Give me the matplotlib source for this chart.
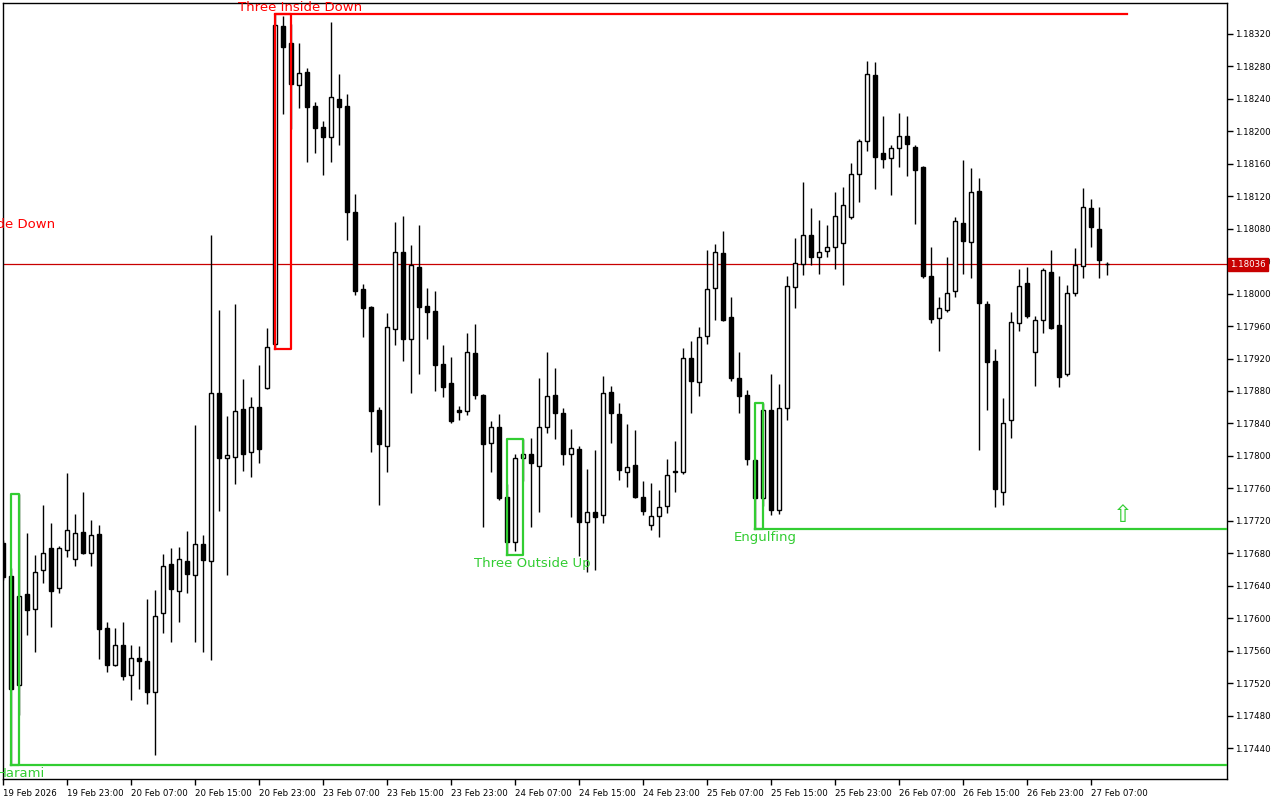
import numpy as np
import matplotlib
matplotlib.use("Agg")
import matplotlib.pyplot as plt
import matplotlib.transforms as mtransforms

# hourly EURUSD-like candles, 19 Feb 15:00 .. 27 Feb 09:00
opens = [
    1.17693, 1.17652, 1.17518, 1.17630, 1.17611, 1.17659, 1.17686, 1.17637, 1.17684, 1.17673,
    1.17706, 1.17681, 1.17704, 1.17588, 1.17543, 1.17567, 1.17530, 1.17551, 1.17547, 1.17509,
    1.17606, 1.17667, 1.17633, 1.17670, 1.17653, 1.17691, 1.17670, 1.17877, 1.17797, 1.17799,
    1.17858, 1.17805, 1.17860, 1.17884, 1.17938, 1.18330, 1.18309, 1.18257, 1.18273, 1.18231,
    1.18205, 1.18193, 1.18240, 1.18231, 1.18101, 1.18006, 1.17983, 1.17856, 1.17812, 1.17956,
    1.18051, 1.17944, 1.18033, 1.17985, 1.17979, 1.17913, 1.17890, 1.17856, 1.17855, 1.17927,
    1.17875, 1.17816, 1.17836, 1.17749, 1.17694, 1.17797, 1.17802, 1.17787, 1.17836, 1.17875,
    1.17853, 1.17802, 1.17808, 1.17718, 1.17731, 1.17727, 1.17879, 1.17852, 1.17780, 1.17789,
    1.17749, 1.17715, 1.17726, 1.17738, 1.17781, 1.17780, 1.17921, 1.17891, 1.17948, 1.18007,
    1.18050, 1.17971, 1.17896, 1.17875, 1.17795, 1.17748, 1.17856, 1.17733, 1.17859, 1.18008,
    1.18036, 1.18072, 1.18045, 1.18052, 1.18057, 1.18062, 1.18094, 1.18147, 1.18188, 1.18269,
    1.18173, 1.18167, 1.18179, 1.18194, 1.18181, 1.18156, 1.18022, 1.17970, 1.17980, 1.18003,
    1.18087, 1.18064, 1.18126, 1.17987, 1.17917, 1.17755, 1.17844, 1.17964, 1.18013, 1.17928,
    1.17967, 1.18027, 1.17961, 1.17901, 1.18001, 1.18034, 1.18106, 1.18080, 1.18037,
]
highs = [
    1.17696, 1.17662, 1.17753, 1.17705, 1.17678, 1.17739, 1.17717, 1.17689, 1.17779, 1.17728,
    1.17755, 1.17721, 1.17715, 1.17596, 1.17588, 1.17596, 1.17567, 1.17566, 1.17624, 1.17635,
    1.17679, 1.17686, 1.17688, 1.17707, 1.17838, 1.17702, 1.18072, 1.17980, 1.17849, 1.17987,
    1.17895, 1.17873, 1.17912, 1.17958, 1.18345, 1.18342, 1.18332, 1.18309, 1.18278, 1.18236,
    1.18213, 1.18335, 1.18271, 1.18246, 1.18123, 1.18012, 1.17985, 1.17860, 1.17976, 1.18088,
    1.18096, 1.18060, 1.18085, 1.18007, 1.18003, 1.17937, 1.17922, 1.17861, 1.17951, 1.17962,
    1.17876, 1.17843, 1.17852, 1.17765, 1.17803, 1.17821, 1.17822, 1.17896, 1.17928, 1.17908,
    1.17859, 1.17833, 1.17812, 1.17784, 1.17807, 1.17898, 1.17886, 1.17865, 1.17839, 1.17832,
    1.17769, 1.17767, 1.17758, 1.17796, 1.17818, 1.17933, 1.17942, 1.17959, 1.18054, 1.18061,
    1.18077, 1.17996, 1.17928, 1.17881, 1.17796, 1.17865, 1.17901, 1.17889, 1.18022, 1.18069,
    1.18138, 1.18106, 1.18091, 1.18085, 1.18125, 1.18131, 1.18161, 1.18191, 1.18287, 1.18285,
    1.18219, 1.18183, 1.18223, 1.18219, 1.18183, 1.18157, 1.18057, 1.17996, 1.18045, 1.18094,
    1.18165, 1.18155, 1.18142, 1.17991, 1.17932, 1.17871, 1.17977, 1.18030, 1.18033, 1.17972,
    1.18032, 1.18054, 1.18022, 1.18011, 1.18056, 1.18130, 1.18117, 1.18107, 1.18039,
]
lows = [
    1.17647, 1.17419, 1.17481, 1.17579, 1.17559, 1.17644, 1.17589, 1.17631, 1.17675, 1.17665,
    1.17679, 1.17664, 1.17550, 1.17534, 1.17541, 1.17524, 1.17499, 1.17513, 1.17494, 1.17432,
    1.17582, 1.17571, 1.17596, 1.17631, 1.17571, 1.17558, 1.17548, 1.17732, 1.17653, 1.17765,
    1.17781, 1.17774, 1.17791, 1.17882, 1.17932, 1.18221, 1.18203, 1.18229, 1.18162, 1.18173,
    1.18146, 1.18162, 1.18183, 1.18066, 1.17998, 1.17946, 1.17805, 1.17739, 1.17780, 1.17937,
    1.17917, 1.17877, 1.17901, 1.17944, 1.17880, 1.17873, 1.17840, 1.17844, 1.17850, 1.17870,
    1.17712, 1.17780, 1.17746, 1.17678, 1.17683, 1.17769, 1.17712, 1.17731, 1.17828, 1.17821,
    1.17789, 1.17725, 1.17677, 1.17657, 1.17659, 1.17717, 1.17816, 1.17770, 1.17762, 1.17748,
    1.17727, 1.17709, 1.17700, 1.17730, 1.17755, 1.17778, 1.17853, 1.17874, 1.17938, 1.17967,
    1.17966, 1.17892, 1.17853, 1.17789, 1.17710, 1.17738, 1.17727, 1.17728, 1.17844, 1.17982,
    1.18023, 1.18035, 1.18024, 1.18045, 1.18030, 1.18011, 1.18092, 1.18113, 1.18176, 1.18129,
    1.18155, 1.18122, 1.18156, 1.18145, 1.18086, 1.18019, 1.17964, 1.17929, 1.17977, 1.17996,
    1.18024, 1.18019, 1.17807, 1.17856, 1.17737, 1.17739, 1.17822, 1.17954, 1.17970, 1.17886,
    1.17951, 1.17956, 1.17885, 1.17898, 1.17997, 1.18019, 1.18057, 1.18019, 1.18023,
]
closes = [
    1.17651, 1.17513, 1.17627, 1.17610, 1.17657, 1.17680, 1.17633, 1.17686, 1.17709, 1.17705,
    1.17680, 1.17702, 1.17587, 1.17543, 1.17567, 1.17529, 1.17551, 1.17547, 1.17509, 1.17603,
    1.17665, 1.17636, 1.17673, 1.17654, 1.17691, 1.17672, 1.17877, 1.17797, 1.17801, 1.17855,
    1.17803, 1.17860, 1.17808, 1.17934, 1.18331, 1.18304, 1.18258, 1.18272, 1.18230, 1.18204,
    1.18193, 1.18242, 1.18230, 1.18101, 1.18003, 1.17982, 1.17855, 1.17815, 1.17959, 1.18051,
    1.17944, 1.18035, 1.17983, 1.17977, 1.17912, 1.17885, 1.17843, 1.17854, 1.17928, 1.17875,
    1.17815, 1.17836, 1.17748, 1.17694, 1.17797, 1.17802, 1.17791, 1.17836, 1.17874, 1.17853,
    1.17802, 1.17810, 1.17718, 1.17731, 1.17725, 1.17877, 1.17853, 1.17783, 1.17786, 1.17749,
    1.17732, 1.17726, 1.17737, 1.17776, 1.17780, 1.17921, 1.17892, 1.17946, 1.18006, 1.18051,
    1.17967, 1.17896, 1.17874, 1.17796, 1.17748, 1.17856, 1.17733, 1.17859, 1.18009, 1.18038,
    1.18072, 1.18045, 1.18051, 1.18057, 1.18096, 1.18109, 1.18147, 1.18188, 1.18271, 1.18168,
    1.18166, 1.18179, 1.18194, 1.18184, 1.18152, 1.18022, 1.17969, 1.17982, 1.18001, 1.18089,
    1.18065, 1.18125, 1.17988, 1.17916, 1.17759, 1.17840, 1.17965, 1.18009, 1.17972, 1.17967,
    1.18029, 1.17958, 1.17897, 1.18001, 1.18035, 1.18107, 1.18082, 1.18041, 1.18036,
]

time_labels = [
    "19 Feb 2026", "19 Feb 23:00", "20 Feb 07:00", "20 Feb 15:00", "20 Feb 23:00",
    "23 Feb 07:00", "23 Feb 15:00", "23 Feb 23:00", "24 Feb 07:00", "24 Feb 15:00",
    "24 Feb 23:00", "25 Feb 07:00", "25 Feb 15:00", "25 Feb 23:00", "26 Feb 07:00",
    "26 Feb 15:00", "26 Feb 23:00", "27 Feb 07:00",
]

bid = 1.18036

# candlestick patterns: name, first bar, last bar, colour, level line, line end
pattern_names = ["Harami", "Three Inside Down", "Three Outside Up", "Engulfing"]
pattern_start = [1, 34, 63, 94]
pattern_end = [2, 36, 65, 95]
pattern_colors = ["#32cd32", "#ff0000", "#32cd32", "#32cd32"]
pattern_level = ["low", "high", None, "low"]
pattern_line_end = [153, 140.5, None, 153]
pattern_label_x = [2.3, 37.2, 66.2, 95.3]
pattern_label_y = [1.17409, 1.18352, 1.17668, 1.17699]

signal_x = 140
signal_price = 1.17727

RED = "#ff0000"
GREEN = "#32cd32"

opens = np.array(opens)
highs = np.array(highs)
lows = np.array(lows)
closes = np.array(closes)
idx = np.arange(len(opens))

fig = plt.figure(figsize=(12.8, 8), dpi=100)
ax = fig.add_axes([2.7 / 1280, 1 - 779 / 800, (1227 - 2.7) / 1280, (779 - 3) / 800])
ax.set_xlim(0, 153)
ax.set_ylim(1.17402, 1.18358)

# wicks then bodies
ax.vlines(idx, lows, highs, color="black", lw=1, zorder=2)
up = closes >= opens
body_bottom = np.minimum(opens, closes)
body_h = np.abs(closes - opens)
ax.bar(idx[up], body_h[up], bottom=body_bottom[up], width=0.55,
       facecolor="white", edgecolor="black", lw=1, zorder=3)
ax.bar(idx[~up], body_h[~up], bottom=body_bottom[~up], width=0.55,
       facecolor="black", edgecolor="black", lw=1, zorder=3)

# current bid line
ax.axhline(bid, color="#c80000", lw=0.9, zorder=1)

# pattern boxes, level lines and labels
for k, name in enumerate(pattern_names):
    a, b = pattern_start[k], pattern_end[k]
    top = highs[a:b + 1].max()
    bot = lows[a:b + 1].min()
    c = pattern_colors[k]
    ax.plot([a, a, b, b, a], [bot, top, top, bot, bot], color=c, lw=1.6, zorder=4)
    if pattern_level[k] is not None:
        lvl = bot if pattern_level[k] == "low" else top
        ax.plot([a, pattern_line_end[k]], [lvl, lvl], color=c, lw=1.6, zorder=4)
    ax.text(pattern_label_x[k], pattern_label_y[k], name, color=c, fontsize=9.5,
            ha="center", va="center", zorder=5)

# label of an earlier pattern that runs off the left edge
ax.text(6.5, 1.18085, "Three Inside Down", color=RED, fontsize=9.5,
        ha="right", va="center", clip_on=False)

# buy signal arrow
ax.text(signal_x, signal_price, "\u21e7", color=GREEN, fontsize=17,
        ha="center", va="center", zorder=5)

# axes styling like the terminal
ax.yaxis.tick_right()
yt = np.round(np.arange(1.17440, 1.18321, 0.0004), 5)
ax.set_yticks(yt)
ax.set_yticklabels([f"{v:.5f}" for v in yt])
ax.set_xticks(np.arange(0, len(opens), 8))
ax.set_xticklabels(time_labels, ha="left")
ax.tick_params(axis="both", direction="out", length=4, width=1, labelsize=6.2,
               colors="black", pad=2)
ax.tick_params(axis="x", pad=3)
for s in ax.spines.values():
    s.set_linewidth(1)
    s.set_color("black")

# bid price tag on the price scale
trans = mtransforms.blended_transform_factory(ax.transAxes, ax.transData)
ax.text(1.0025, bid, f"{bid:.5f}", transform=trans, color="white", fontsize=6.2,
        ha="left", va="center", clip_on=False, zorder=10,
        bbox=dict(boxstyle="square,pad=0.25", facecolor="#c80000", edgecolor="#c80000"))

fig.savefig("out.png", dpi=100, facecolor="white")
